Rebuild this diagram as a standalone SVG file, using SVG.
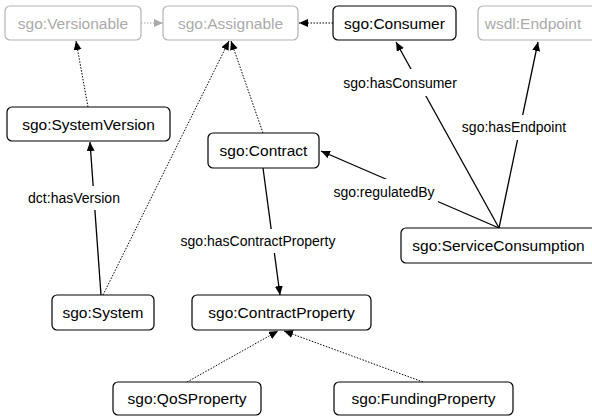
<svg xmlns="http://www.w3.org/2000/svg" width="592" height="416" viewBox="0 0 592 416">
  <style>
    .node rect { fill: #fff; stroke: #000; stroke-width: 1.2; }
    .node text { font-family: "Liberation Sans", Arial, sans-serif; font-size: 15.5px; fill: #000; text-anchor: middle; dominant-baseline: central; }
    .node.ext rect { stroke: #b3b3b3; }
    .node.ext text { fill: #aaa; }
    .solid { stroke: #000; stroke-width: 1.3; fill: none; marker-end: url(#head); }
    .dot { stroke: #000; stroke-width: 1; stroke-dasharray: 1.5 1.5; fill: none; marker-end: url(#head); }
    .dot.grey { stroke: #aaa; marker-end: url(#headGrey); }
    .lbl rect { fill: #fff; }
    .lbl text { font-family: "Liberation Sans", Arial, sans-serif; font-size: 14px; fill: #000; text-anchor: middle; dominant-baseline: central; }
  </style>
  <defs>
    <marker id="head" markerUnits="userSpaceOnUse" markerWidth="10" markerHeight="10" refX="9" refY="4" orient="auto">
      <path d="M0,0 L9,4 L0,8 Z" fill="#000"/>
    </marker>
    <marker id="headGrey" markerUnits="userSpaceOnUse" markerWidth="10" markerHeight="10" refX="9" refY="4" orient="auto">
      <path d="M0,0 L9,4 L0,8 Z" fill="#aaa"/>
    </marker>
  </defs>
  <rect width="592" height="416" fill="#fff"/>

  <g id="connectors">
    <line class="dot grey" x1="141" y1="23" x2="163" y2="23"/>
    <line class="dot" x1="333" y1="23" x2="299" y2="23"/>
    <line class="dot" x1="88" y1="107" x2="76" y2="41"/>
    <line class="dot" x1="263" y1="133" x2="231" y2="41"/>
    <line class="dot" x1="103" y1="295" x2="229" y2="41"/>
    <line class="dot" x1="187" y1="382" x2="278" y2="331"/>
    <line class="dot" x1="423" y1="382" x2="284" y2="331"/>
    <line class="solid" x1="101" y1="295" x2="90" y2="142"/>
    <line class="solid" x1="263" y1="168" x2="280" y2="295"/>
    <line class="solid" x1="499" y1="228" x2="396" y2="42"/>
    <line class="solid" x1="499" y1="228" x2="538" y2="42"/>
    <line class="solid" x1="499" y1="228" x2="321" y2="151"/>

    <g class="lbl"><rect x="25" y="186" width="98" height="24"/><text x="74" y="198">dct:hasVersion</text></g>
    <g class="lbl"><rect x="176" y="229" width="164" height="24"/><text x="258" y="241">sgo:hasContractProperty</text></g>
    <g class="lbl"><rect x="341" y="69" width="119" height="27"/><text x="400" y="83">sgo:hasConsumer</text></g>
    <g class="lbl"><rect x="459" y="115" width="111" height="25"/><text x="514" y="127">sgo:hasEndpoint</text></g>
    <g class="lbl"><rect x="331" y="179" width="107" height="26"/><text x="384" y="192">sgo:regulatedBy</text></g>
  </g>

  <g id="versionable" class="node ext"><rect x="5" y="6" width="136" height="34" rx="5"/><text x="73" y="23">sgo:Versionable</text></g>
  <g id="assignable" class="node ext"><rect x="163" y="6" width="135" height="34" rx="5"/><text x="230.5" y="23">sgo:Assignable</text></g>
  <g id="consumer" class="node"><rect x="333" y="6" width="123" height="34" rx="5"/><text x="394.5" y="23">sgo:Consumer</text></g>
  <g id="endpoint" class="node ext"><rect x="478" y="6" width="120" height="34" rx="5"/><text x="533" y="23">wsdl:Endpoint</text></g>
  <g id="systemVersion" class="node"><rect x="7" y="107" width="163" height="34" rx="5"/><text x="88.5" y="124">sgo:SystemVersion</text></g>
  <g id="contract" class="node"><rect x="208" y="133" width="111" height="35" rx="5"/><text x="263.5" y="150.5">sgo:Contract</text></g>
  <g id="serviceConsumption" class="node"><rect x="401" y="228" width="196" height="35" rx="5"/><text x="498.5" y="245.5">sgo:ServiceConsumption</text></g>
  <g id="system" class="node"><rect x="52" y="295" width="102" height="35" rx="5"/><text x="103" y="312.5">sgo:System</text></g>
  <g id="contractProperty" class="node"><rect x="192" y="295" width="179" height="35" rx="5"/><text x="281.5" y="312.5">sgo:ContractProperty</text></g>
  <g id="qosProperty" class="node"><rect x="113" y="382" width="148" height="33" rx="5"/><text x="187" y="398.5">sgo:QoSProperty</text></g>
  <g id="fundingProperty" class="node"><rect x="334" y="382" width="179" height="33" rx="5"/><text x="423.5" y="398.5">sgo:FundingProperty</text></g>
</svg>
